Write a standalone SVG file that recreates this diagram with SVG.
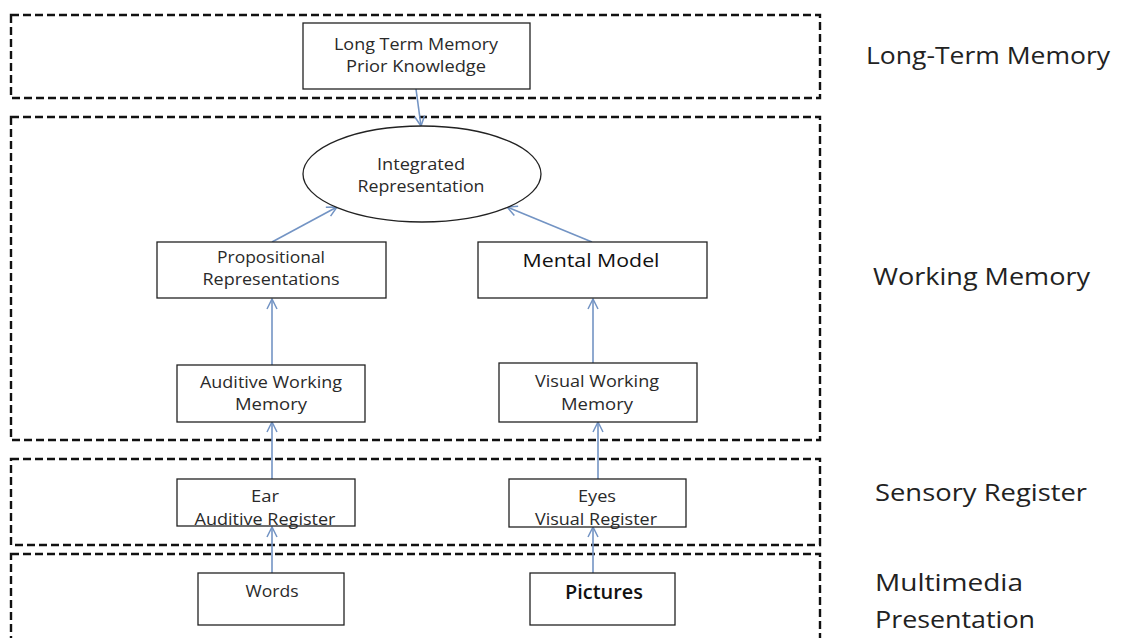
<svg xmlns="http://www.w3.org/2000/svg" width="1124" height="638" viewBox="0 0 1124 638">
  <style>
    .zone { fill: none; stroke: #111; stroke-width: 2.4; stroke-dasharray: 8 4; }
    .node { fill: #fff; stroke: #222; stroke-width: 1.3; }
    .t { font-family: "Open Sans", Lato, "Liberation Sans", sans-serif; fill: #2a2a2a; text-anchor: middle; font-size: 16px; }
    .big { font-size: 19px; fill: #111; }
    .lbl { font-family: "Open Sans", Lato, "Liberation Sans", sans-serif; fill: #222; font-size: 24px; }
    .arr { fill: none; stroke: #7394c4; stroke-width: 1.6; marker-end: url(#head); }
  </style>
  <defs>
    <marker id="head" viewBox="0 0 12 12" refX="11" refY="6" markerWidth="12" markerHeight="12" markerUnits="userSpaceOnUse" orient="auto">
      <path d="M1,1 L11,6 L1,11" fill="none" stroke="#7394c4" stroke-width="1.5"/>
    </marker>
  </defs>
  <rect width="1124" height="638" fill="#fff"/>

  <!-- memory stage zones -->
  <g id="zones">
    <rect class="zone" x="11" y="15" width="809" height="83"/>
    <rect class="zone" x="11" y="117" width="809" height="323"/>
    <rect class="zone" x="11" y="459" width="809" height="86"/>
    <rect class="zone" x="11" y="554" width="809" height="100"/>
  </g>

  <!-- stage labels -->
  <g id="stage-labels">
    <text class="lbl" x="866" y="64" textLength="244" lengthAdjust="spacingAndGlyphs">Long-Term Memory</text>
    <text class="lbl" x="873" y="285" textLength="217" lengthAdjust="spacingAndGlyphs">Working Memory</text>
    <text class="lbl" x="875" y="501" textLength="212" lengthAdjust="spacingAndGlyphs">Sensory Register</text>
    <text class="lbl" x="875" y="591" textLength="148" lengthAdjust="spacingAndGlyphs">Multimedia</text>
    <text class="lbl" x="875" y="628" textLength="160" lengthAdjust="spacingAndGlyphs">Presentation</text>
  </g>

  <!-- connectors -->
  <g id="connectors">
    <line class="arr" x1="416" y1="89" x2="421" y2="126"/>
    <line class="arr" x1="272" y1="242" x2="337" y2="207"/>
    <line class="arr" x1="592" y1="242" x2="507" y2="207"/>
    <line class="arr" x1="272" y1="365" x2="272" y2="299"/>
    <line class="arr" x1="593" y1="363" x2="593" y2="299"/>
    <line class="arr" x1="272" y1="479" x2="272" y2="422"/>
    <line class="arr" x1="598" y1="479" x2="598" y2="422"/>
    <line class="arr" x1="272" y1="573" x2="272" y2="527"/>
    <line class="arr" x1="593" y1="573" x2="593" y2="527"/>
  </g>

  <g id="ltm">
    <rect class="node" x="303" y="23" width="227" height="66"/>
    <text class="t" x="416" y="50" textLength="164" lengthAdjust="spacingAndGlyphs">Long Term Memory</text>
    <text class="t" x="416" y="72" textLength="140" lengthAdjust="spacingAndGlyphs">Prior Knowledge</text>
  </g>

  <g id="integrated">
    <ellipse class="node" cx="422" cy="174" rx="119" ry="48"/>
    <text class="t" x="421" y="170" textLength="88" lengthAdjust="spacingAndGlyphs">Integrated</text>
    <text class="t" x="421" y="192" textLength="127" lengthAdjust="spacingAndGlyphs">Representation</text>
  </g>

  <g id="propositional">
    <rect class="node" x="157" y="242" width="229" height="56"/>
    <text class="t" x="271" y="263" textLength="108" lengthAdjust="spacingAndGlyphs">Propositional</text>
    <text class="t" x="271" y="285" textLength="137" lengthAdjust="spacingAndGlyphs">Representations</text>
  </g>

  <g id="mental-model">
    <rect class="node" x="478" y="242" width="229" height="56"/>
    <text class="t big" x="591" y="267" textLength="137" lengthAdjust="spacingAndGlyphs">Mental Model</text>
  </g>

  <g id="auditive-wm">
    <rect class="node" x="177" y="365" width="188" height="57"/>
    <text class="t" x="271" y="388" textLength="142" lengthAdjust="spacingAndGlyphs">Auditive Working</text>
    <text class="t" x="271" y="410" textLength="72" lengthAdjust="spacingAndGlyphs">Memory</text>
  </g>

  <g id="visual-wm">
    <rect class="node" x="499" y="363" width="198" height="59"/>
    <text class="t" x="597" y="387" textLength="124" lengthAdjust="spacingAndGlyphs">Visual Working</text>
    <text class="t" x="597" y="410" textLength="72" lengthAdjust="spacingAndGlyphs">Memory</text>
  </g>

  <g id="ear">
    <rect class="node" x="177" y="479" width="178" height="47"/>
    <text class="t" x="265" y="502" textLength="28" lengthAdjust="spacingAndGlyphs">Ear</text>
    <text class="t" x="265" y="525" textLength="141" lengthAdjust="spacingAndGlyphs">Auditive Register</text>
  </g>

  <g id="eyes">
    <rect class="node" x="509" y="479" width="177" height="48"/>
    <text class="t" x="597" y="502" textLength="38" lengthAdjust="spacingAndGlyphs">Eyes</text>
    <text class="t" x="596" y="525" textLength="122" lengthAdjust="spacingAndGlyphs">Visual Register</text>
  </g>

  <g id="words">
    <rect class="node" x="198" y="573" width="146" height="52"/>
    <text class="t" x="272" y="597" textLength="53" lengthAdjust="spacingAndGlyphs">Words</text>
  </g>

  <g id="pictures">
    <rect class="node" x="530" y="573" width="145" height="52"/>
    <text class="t big" x="604" y="599" font-weight="600" textLength="78" lengthAdjust="spacingAndGlyphs">Pictures</text>
  </g>
</svg>
